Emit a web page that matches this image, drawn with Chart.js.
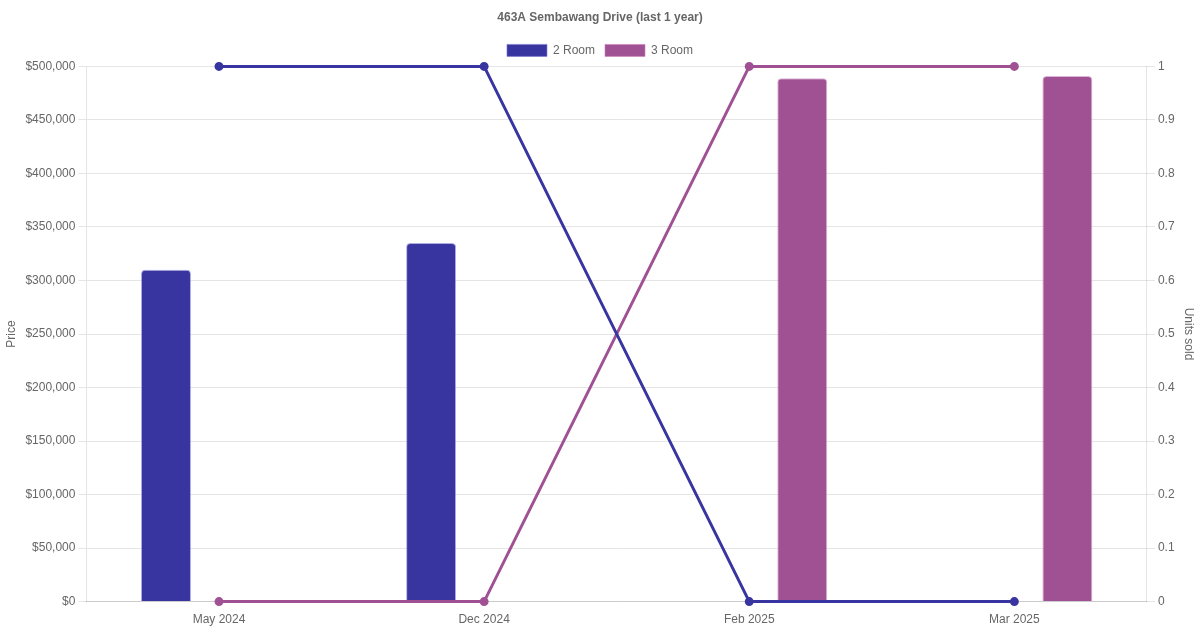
<!DOCTYPE html>
<html>
<head>
<meta charset="utf-8">
<script src="https://cdn.jsdelivr.net/npm/chart.js@4"></script>
<style>
html,body{margin:0;padding:0;background:#fff;}
#wrap{width:1200px;height:630px;}
</style>
</head>
<body>
<div id="wrap"><canvas id="c"></canvas></div>
<script>
const categories = ['May 2024', 'Dec 2024', 'Feb 2025', 'Mar 2025'];
const price2Room = [310000, 335000, null, null];
const price3Room = [null, null, 489000, 491000];
const units2Room = [1, 1, 0, 0];
const units3Room = [0, 0, 1, 1];
const seriesNames = ['2 Room', '3 Room'];
const colors = ['#3935a0', '#a05193'];

Chart.defaults.font.family = '"Liberation Sans", Arial, Helvetica, sans-serif';
Chart.defaults.color = '#666';

new Chart(document.getElementById('c'), {
  data: {
    labels: categories,
    datasets: [
      { type: 'bar', label: seriesNames[0], data: price2Room, backgroundColor: colors[0], borderColor: 'rgba(120,120,210,0.6)', borderWidth: 1, borderRadius: 4, borderSkipped: 'bottom', maxBarThickness: 50, yAxisID: 'y', order: 3 },
      { type: 'bar', label: seriesNames[1], data: price3Room, backgroundColor: colors[1], borderColor: 'rgba(200,130,190,0.6)', borderWidth: 1, borderRadius: 4, borderSkipped: 'bottom', maxBarThickness: 50, yAxisID: 'y', order: 4 },
      { type: 'line', label: seriesNames[0] + ' units', data: units2Room, borderColor: colors[0], backgroundColor: colors[0], borderWidth: 3, pointRadius: 3, yAxisID: 'y1', order: 1, clip: false },
      { type: 'line', label: seriesNames[1] + ' units', data: units3Room, borderColor: colors[1], backgroundColor: colors[1], borderWidth: 3, pointRadius: 3, yAxisID: 'y1', order: 2, clip: false }
    ]
  },
  options: {
    responsive: true,
    maintainAspectRatio: false,
    animation: false,
    plugins: {
      title: { display: true, text: '463A Sembawang Drive (last 1 year)', font: { size: 12, weight: 'bold' }, color: '#666' },
      legend: { labels: { filter: (item) => item.datasetIndex < 2 } },
      tooltip: { enabled: false }
    },
    scales: {
      x: { grid: { display: false }, border: { color: '#ccc' }, ticks: { color: '#666' } },
      y: {
        position: 'left', min: 0, max: 500000,
        ticks: { stepSize: 50000, color: '#666', callback: v => '$' + v.toLocaleString('en-US') },
        title: { display: true, text: 'Price', color: '#666' },
        grid: { color: '#e5e5e5' }
      },
      y1: {
        position: 'right', min: 0, max: 1,
        ticks: { stepSize: 0.1, color: '#666', callback: v => String(Math.round(v * 10) / 10) },
        title: { display: true, text: 'Units sold', color: '#666' },
        grid: { drawOnChartArea: false, color: '#e5e5e5' }
      }
    }
  }
});
</script>
</body>
</html>
